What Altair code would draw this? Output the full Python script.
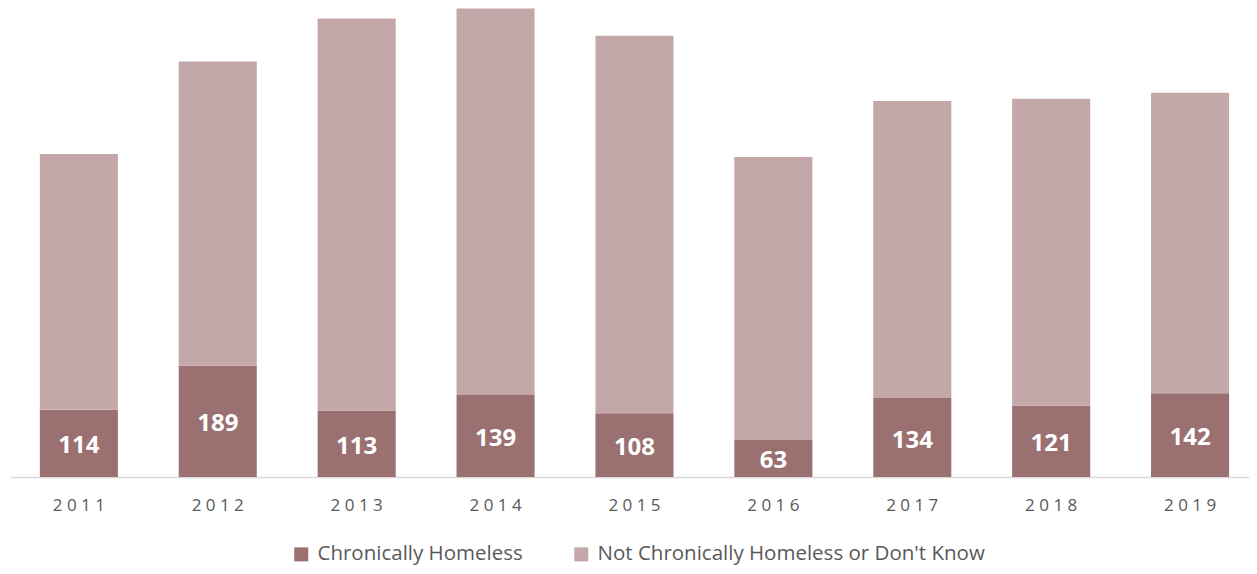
import altair as alt
import pandas as pd

years = ["2011", "2012", "2013", "2014", "2015", "2016", "2017", "2018", "2019"]
chronic = [114, 189, 113, 139, 108, 63, 134, 121, 142]
not_chronic = [434, 516, 665, 656, 641, 480, 504, 521, 510]
series = ["Chronically Homeless", "Not Chronically Homeless or Don't Know"]
colors = ["#9A7070", "#C4A8A9"]

rows = []
for y, c, n in zip(years, chronic, not_chronic):
    rows.append({"year": y, "series": series[0], "value": c, "ord": 0})
    rows.append({"year": y, "series": series[1], "value": n, "ord": 1})
df = pd.DataFrame(rows)

xenc = alt.X("year:N", sort=years, title=None,
             scale=alt.Scale(paddingInner=0.438, paddingOuter=0.179, align=0.6),
             axis=alt.Axis(labelAngle=0, ticks=False, domainColor="#D9D9D9", domainWidth=1.5,
                           labelColor="#595959", labelFontSize=17, labelFont="Open Sans",
                           labelPadding=20,
                           labelExpr="join(split(datum.label, ''), ' ')"))

bars = alt.Chart(df).mark_bar().encode(
    x=xenc,
    y=alt.Y("value:Q", stack="zero", scale=alt.Scale(domain=[0, 796], nice=False), axis=None),
    color=alt.Color("series:N", scale=alt.Scale(domain=series, range=colors),
                    legend=alt.Legend(title=None, orient="none", direction="horizontal",
                                      legendX=281, legendY=536, symbolType="square",
                                      symbolSize=196, symbolStrokeWidth=0, symbolOpacity=1,
                                      labelFontSize=20.5, labelFont="Open Sans", labelColor="#595959",
                                      labelLimit=0, columnPadding=48, labelOffset=6)),
    order=alt.Order("ord:Q"),
)

labels = alt.Chart(df).transform_filter(
    alt.datum.ord == 0
).transform_calculate(
    mid="datum.value / 2"
).mark_text(color="white", fontWeight="bold", fontSize=24, font="Open Sans",
            baseline="middle", dy=3).encode(
    x=alt.X("year:N", sort=years),
    y=alt.Y("mid:Q"),
    text="value:Q",
)

chart = alt.layer(bars, labels).properties(
    width=1239, height=469,
    autosize=alt.AutoSizeParams(type="none"),
    padding={"left": 2, "top": 0, "right": 0, "bottom": 89},
).configure(background="white").configure_view(stroke=None)

chart.save("out.html", embed_options={"renderer": "svg", "actions": False})
